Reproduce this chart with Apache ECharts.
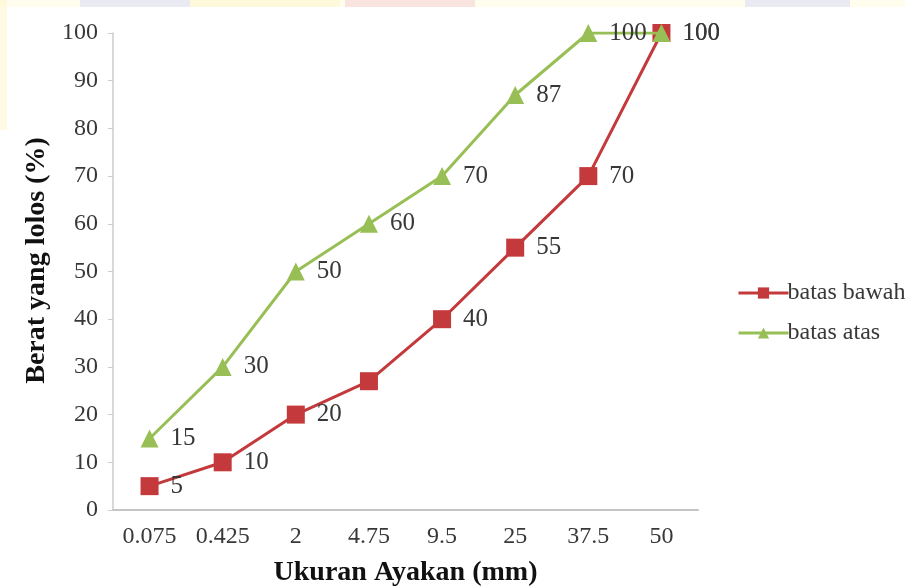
<!DOCTYPE html>
<html>
<head>
<meta charset="utf-8">
<script src="https://cdn.jsdelivr.net/npm/echarts@6/dist/echarts.min.js"></script>
<style>
  html, body { margin: 0; padding: 0; background: #fff; }
  #chart { width: 905px; height: 588px; }
</style>
</head>
<body>
<div id="chart"></div>
<script>
// Sieve sizes (mm) and grading limits (% passing)
const sieveSizes = ['0.075', '0.425', '2', '4.75', '9.5', '25', '37.5', '50'];
const lowerLimit = [5, 10, 20, 27, 40, 55, 70, 100];
const upperLimit = [15, 30, 50, 60, 70, 87, 100, 100];
// Points on the lower limit that carry a value label
const lowerLabelled = [true, true, true, false, true, true, true, true];
const yTicks = { min: 0, max: 100, interval: 10 };

const serif = '"Liberation Serif", "DejaVu Serif", serif';
const red = '#C4393B';
const green = '#98BF55';
const textGrey = '#383838';

const chart = echarts.init(document.getElementById('chart'));

const labelStyle = {
  show: true,
  position: 'right',
  distance: 12,
  fontFamily: serif,
  fontSize: 25,
  color: textGrey
};

// faint pastel band along the top and left page edges
const band = (x, y, w, h, color) => ({
  type: 'rect',
  shape: { x, y, width: w, height: h },
  style: { fill: color, opacity: 0.55 },
  silent: true,
  z: -10
});

chart.setOption({
  animation: false,
  backgroundColor: '#ffffff',
  graphic: [
    band(0, 0, 905, 7, '#fffbe0'),
    band(80, 0, 110, 7, '#d9dcf5'),
    band(190, 0, 150, 7, '#fff6cc'),
    band(345, 0, 130, 7, '#f6cfd6'),
    band(745, 0, 105, 7, '#d9dcf5'),
    band(0, 0, 7, 130, '#fff6cc')
  ],
  grid: {
    left: 113, right: 207, top: 33, bottom: 78,
    containLabel: false,
    outerBoundsMode: 'none'
  },
  legend: {
    orient: 'vertical',
    left: 732,
    top: 276,
    itemWidth: 50,
    itemHeight: 14,
    itemGap: 16,
    lineStyle: { width: 3 },
    textStyle: { fontFamily: serif, fontSize: 24, color: textGrey, padding: [0, 0, 0, -6] },
    data: ['batas bawah', 'batas atas']
  },
  xAxis: {
    type: 'category',
    data: sieveSizes,
    boundaryGap: true,
    name: 'Ukuran Ayakan (mm)',
    nameLocation: 'middle',
    nameGap: 49,
    nameTextStyle: { fontFamily: serif, fontSize: 28, fontWeight: 'bold', color: '#111' },
    axisLine: { lineStyle: { color: '#c4c4c4', width: 2 } },
    axisTick: { show: false },
    axisLabel: { fontFamily: serif, fontSize: 24, color: textGrey, margin: 15 },
    splitLine: { show: false }
  },
  yAxis: {
    type: 'value',
    min: yTicks.min,
    max: yTicks.max,
    interval: yTicks.interval,
    name: 'Berat yang lolos (%)',
    nameLocation: 'middle',
    nameGap: 60,
    nameRotate: 90,
    nameTextStyle: {
      fontFamily: serif, fontSize: 28, fontWeight: 'bold', color: '#111',
      padding: [0, 0, 0, 22]
    },
    axisLine: { show: true, lineStyle: { color: '#cccccc', width: 1.5 } },
    axisTick: { show: true, length: 5, lineStyle: { color: '#cccccc' } },
    axisLabel: { fontFamily: serif, fontSize: 24, color: textGrey, margin: 15 },
    splitLine: { show: false }
  },
  series: [
    {
      name: 'batas bawah',
      type: 'line',
      data: lowerLimit.map((v, i) => ({
        value: v,
        label: lowerLabelled[i] ? {} : { show: false }
      })),
      symbol: 'rect',
      symbolSize: 18,
      itemStyle: { color: red },
      lineStyle: { color: red, width: 3 },
      label: labelStyle,
      z: 3
    },
    {
      name: 'batas atas',
      type: 'line',
      data: upperLimit,
      symbol: 'triangle',
      symbolSize: 18,
      itemStyle: { color: green },
      lineStyle: { color: green, width: 3 },
      label: labelStyle,
      z: 4
    }
  ]
});
</script>
</body>
</html>
